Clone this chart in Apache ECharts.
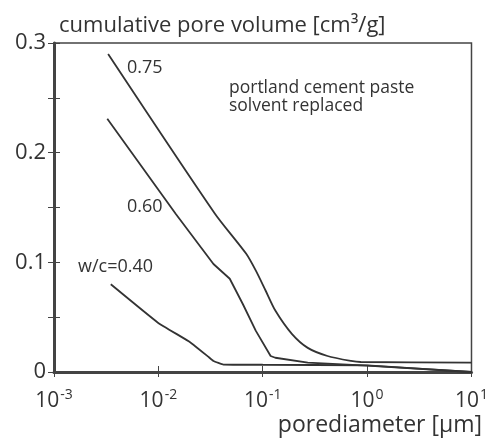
<!DOCTYPE html>
<html><head><meta charset="utf-8">
<script src="https://cdn.jsdelivr.net/npm/echarts@6/dist/echarts.min.js"></script>
<style>html,body{margin:0;padding:0;background:#fff}#c{width:491px;height:443px}</style>
</head><body><div id="c"></div>
<script>
// pore diameter [µm] and cumulative pore volume [cm3/g]
var wc040_d = [0.0035, 0.0099, 0.0203, 0.0300, 0.0337, 0.042, 0.1, 1.0, 10];
var wc040_v = [0.080, 0.045, 0.027, 0.014, 0.010, 0.0068, 0.0066, 0.0060, 0.0];
var wc060_d = [0.00324, 0.0147, 0.0337, 0.0483, 0.0644, 0.0859, 0.119, 0.132, 0.27, 1.0, 10];
var wc060_v = [0.231, 0.144, 0.0985, 0.085, 0.062, 0.0375, 0.0146, 0.013, 0.0085, 0.0058, 0.0];
var wc075_d = [0.0033, 0.0347, 0.0692, 0.0859, 0.1067, 0.1324, 0.190, 0.270, 0.417, 0.70, 0.87, 10];
var wc075_v = [0.290, 0.1446, 0.108, 0.0924, 0.0741, 0.0558, 0.0348, 0.022, 0.0146, 0.0101, 0.0091, 0.0085];
var yTicks = [0, 0.1, 0.2, 0.3];
var seriesNames = ['w/c=0.40', '0.60', '0.75'];

function pairs(d, v) { return d.map(function (x, i) { return [x, v[i]]; }); }
var FONT = 'Open Sans';
var C = '#333';
var chart = echarts.init(document.getElementById('c'));
function yFmt(v) {
  for (var i = 0; i < yTicks.length; i++) {
    if (Math.abs(v - yTicks[i]) < 1e-6) return yTicks[i] === 0 ? '0' : yTicks[i].toFixed(1);
  }
  return '';
}
var xLabel = {
  color: C, fontFamily: FONT, margin: 16,
  formatter: function (v) { return '{b|10}{s|' + Math.round(Math.log10(v)) + '}'; },
  rich: {
    b: { fontSize: 21, fontFamily: FONT, color: C, lineHeight: 24, verticalAlign: 'bottom' },
    s: { fontSize: 14, fontFamily: FONT, color: C, lineHeight: 24, verticalAlign: 'top', padding: [0, 0, 0, 1] }
  }
};
var lineStyle = { color: C, width: 1.8 };
var grid = { left: 54, right: 11, top: 43, bottom: 71, show: true, borderColor: '#444', borderWidth: 1.5 };
chart.setOption({
  animation: false,
  title: { text: 'cumulative pore volume [cm³/g]', left: 54, top: 10,
    textStyle: { fontFamily: FONT, fontSize: 22, fontWeight: 'normal', color: C } },
  grid: grid,
  xAxis: [
    { type: 'log', logBase: 10, min: 0.001, max: 10,
      axisLine: { show: true, lineStyle: { color: '#444', width: 3 } },
      axisTick: { show: true, inside: false, length: 5, lineStyle: { color: '#444', width: 1 } },
      axisLabel: xLabel, splitLine: { show: false }, minorTick: { show: false } },
    { type: 'log', logBase: 10, min: 0.001, max: 10, position: 'bottom',
      axisLine: { show: false },
      axisTick: { show: true, inside: true, length: 6, lineStyle: { color: '#444', width: 1 } },
      axisLabel: { show: false }, splitLine: { show: false } }
  ],
  yAxis: [
    { type: 'value', min: 0, max: 0.3, interval: 0.05,
      axisLine: { show: true, lineStyle: { color: '#444', width: 3 } },
      axisTick: { show: true, inside: false, length: 6, lineStyle: { color: '#444', width: 1 } },
      axisLabel: { color: C, fontFamily: FONT, fontSize: 22, margin: 8, formatter: yFmt },
      splitLine: { show: false } },
    { type: 'value', min: 0, max: 0.3, interval: 0.05, position: 'left',
      axisLine: { show: false },
      axisTick: { show: true, inside: true, length: 6, lineStyle: { color: '#444', width: 1 } },
      axisLabel: { show: false }, splitLine: { show: false } }
  ],
  series: [
    { name: seriesNames[0], type: 'line', data: pairs(wc040_d, wc040_v), showSymbol: false, lineStyle: lineStyle, smooth: 0.1 },
    { name: seriesNames[1], type: 'line', data: pairs(wc060_d, wc060_v), showSymbol: false, lineStyle: lineStyle, smooth: false },
    { name: seriesNames[2], type: 'line', data: pairs(wc075_d, wc075_v), showSymbol: false, lineStyle: lineStyle, smooth: 0.25 }
  ],
  graphic: [
    { type: 'text', left: 127, top: 59, style: { text: seriesNames[2], font: '18px "' + FONT + '"', fill: C } },
    { type: 'text', left: 127, top: 198, style: { text: seriesNames[1], font: '18px "' + FONT + '"', fill: C } },
    { type: 'text', left: 78, top: 258, style: { text: seriesNames[0], font: '18px "' + FONT + '"', fill: C } },
    { type: 'text', left: 229, top: 79, style: { text: 'portland cement paste\nsolvent replaced', font: '17.5px "' + FONT + '"', lineHeight: 18, fill: C } },
    { type: 'text', right: 9, top: 414, style: { text: 'porediameter [μm]', font: '23px "' + FONT + '"', fill: C } }
  ]
});
</script></body></html>
